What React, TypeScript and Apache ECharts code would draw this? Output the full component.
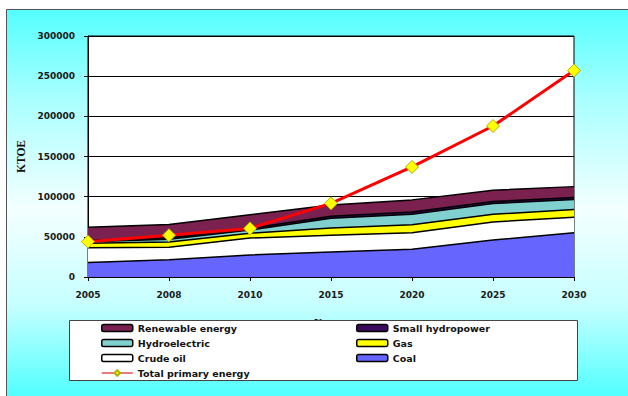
import React, { useEffect, useRef } from "react";
import * as echarts from "echarts";

const years = ["2005", "2008", "2010", "2015", "2020", "2025", "2030"];
const coal = [18000, 21500, 27500, 31000, 34500, 46000, 55000];
const crudeOil = [18500, 15500, 21000, 21000, 20500, 22500, 19500];
const gas = [5500, 6500, 6000, 9000, 10000, 9500, 9500];
const hydroelectric = [2000, 3500, 4000, 12000, 13000, 13500, 12500];
const smallHydropower = [1500, 2000, 2000, 2500, 3000, 2500, 2500];
const renewableEnergy = [16500, 16500, 17000, 14000, 15000, 14000, 13500];
const totalPrimary = [44000, 52000, 60500, 91700, 137000, 188000, 257000];

const yTicks = [0, 50000, 100000, 150000, 200000, 250000, 300000];

const COLORS = {
  coal: "#6666FF",
  crude: "#FFFFFF",
  gas: "#FFFF00",
  hydro: "#80D0D0",
  small: "#3A0A5E",
  renew: "#7B2150",
};

export default function App() {
  const ref = useRef<HTMLDivElement>(null);

  useEffect(() => {
    if (!ref.current) return;
    const chart = echarts.init(ref.current, undefined, { renderer: "svg" });

    const area = (name: string, data: number[], color: string) => ({
      name,
      type: "line",
      stack: "total",
      data,
      symbol: "none",
      color,
      lineStyle: { color: "#000", width: 1.5 },
      areaStyle: { color, opacity: 1 },
      itemStyle: { color },
      z: 2,
    });

    const lbl = { fontFamily: "DejaVu Sans", fontWeight: "bold", fontSize: 9, color: "#1a1a1a" };
    const legendText = { fontFamily: "DejaVu Sans", fontWeight: "bold", fontSize: 9.5, color: "#111", lineHeight: 12 };
    const rectItem = (name: string, color: string) => ({
      name,
      icon: "roundRect",
      itemStyle: { color, borderColor: "#000", borderWidth: 1.5 },
    });

    chart.setOption({
      animation: false,
      backgroundColor: "#ffffff",
      graphic: [
        {
          type: "rect",
          z: -100,
          shape: { x: 6.5, y: 9.5, width: 640, height: 400 },
          style: {
            fill: new echarts.graphic.LinearGradient(0, 0, 0, 1, [
              { offset: 0, color: "#55FFFF" },
              { offset: 0.22, color: "#A8FFFF" },
              { offset: 0.5, color: "#F4FFFF" },
              { offset: 0.74, color: "#C6FFFF" },
              { offset: 0.96, color: "#55FFFF" },
              { offset: 1, color: "#55FFFF" },
            ]),
            stroke: "#555",
            lineWidth: 1,
          },
        },
        {
          type: "text",
          z: 0,
          x: 325,
          y: 316,
          style: {
            text: "Year",
            align: "center",
            fontFamily: "Liberation Serif",
            fontWeight: "bold",
            fontSize: 11,
            fill: "#111",
          },
        },
        {
          type: "rect",
          z: 1,
          shape: { x: 69.5, y: 320.5, width: 508, height: 60 },
          style: { fill: "#fff", stroke: "#444", lineWidth: 1 },
        },
      ],
      grid: {
        left: 88,
        top: 36,
        width: 486,
        height: 241,
        show: true,
        backgroundColor: "#fff",
        borderColor: "#000",
        borderWidth: 1,
      },
      legend: [
        {
          orient: "vertical",
          left: 101,
          top: 322,
          padding: 0,
          itemGap: 3,
          itemWidth: 31,
          itemHeight: 7,
          textStyle: legendText,
          data: [
            rectItem("Renewable energy", COLORS.renew),
            rectItem("Hydroelectric", COLORS.hydro),
            rectItem("Crude oil", COLORS.crude),
            { name: "Total primary energy", lineStyle: { width: 1.5, color: "#E05050" } },
          ],
        },
        {
          orient: "vertical",
          left: 356,
          top: 322,
          padding: 0,
          itemGap: 3,
          itemWidth: 31,
          itemHeight: 7,
          textStyle: legendText,
          data: [
            rectItem("Small hydropower", COLORS.small),
            rectItem("Gas", COLORS.gas),
            rectItem("Coal", COLORS.coal),
          ],
        },
      ],
      xAxis: {
        type: "category",
        data: years,
        boundaryGap: false,
        axisLine: { lineStyle: { color: "#000", width: 1 } },
        axisTick: { show: true, length: 4, lineStyle: { color: "#000" } },
        axisLabel: { ...lbl, margin: 13 },
      },
      yAxis: {
        type: "value",
        min: yTicks[0],
        max: yTicks[yTicks.length - 1],
        interval: 50000,
        name: "KTOE",
        nameLocation: "middle",
        nameRotate: 90,
        nameGap: 60,
        nameTextStyle: { fontFamily: "Liberation Serif", fontWeight: "bold", fontSize: 11.5, color: "#111" },
        axisLine: { show: true, lineStyle: { color: "#000", width: 1 } },
        axisTick: { show: true, length: 4, lineStyle: { color: "#000" } },
        axisLabel: { ...lbl, margin: 13, formatter: (v: number) => String(v) },
        splitLine: { show: true, lineStyle: { color: "#000", width: 1 } },
      },
      series: [
        area("Coal", coal, COLORS.coal),
        area("Crude oil", crudeOil, COLORS.crude),
        area("Gas", gas, COLORS.gas),
        area("Hydroelectric", hydroelectric, COLORS.hydro),
        area("Small hydropower", smallHydropower, COLORS.small),
        area("Renewable energy", renewableEnergy, COLORS.renew),
        {
          name: "Total primary energy",
          type: "line",
          data: totalPrimary,
          symbol: "diamond",
          symbolSize: 13,
          color: "#FF0000",
          lineStyle: { color: "#FF0000", width: 3 },
          itemStyle: { color: "#FFFF00", borderColor: "#B0B000", borderWidth: 1 },
          z: 5,
        },
      ],
    });

    return () => chart.dispose();
  }, []);

  return (
    <div
      ref={ref}
      style={{ position: "fixed", left: 0, top: 0, width: 628, height: 396 }}
    />
  );
}
